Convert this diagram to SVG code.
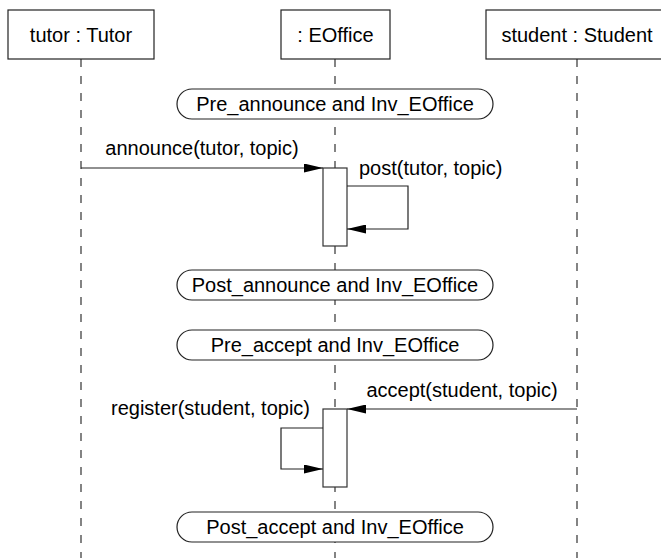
<svg xmlns="http://www.w3.org/2000/svg" width="661" height="558" viewBox="0 0 661 558">
<style>
text{font-family:"Liberation Sans",Arial,sans-serif;font-size:20px;fill:#000}
.box{fill:#fff;stroke:#222;stroke-width:1.2}
.life{stroke:#333;stroke-width:1.2;stroke-dasharray:8 9;fill:none}
.msg{stroke:#222;stroke-width:1.2;fill:none}
.pill{fill:#fff;stroke:#222;stroke-width:1.2}
.act{fill:#fff;stroke:#333;stroke-width:1.2}
</style>
<defs>
<marker id="ah" viewBox="0 0 19 9" refX="19" refY="4.5" markerWidth="19" markerHeight="9" markerUnits="userSpaceOnUse" orient="auto">
<path d="M0,0 L19,4.5 L0,9 Z" fill="#000"/>
</marker>
</defs>
<g id="lifelines">
<line class="life" x1="81" y1="59" x2="81" y2="558"/>
<line class="life" x1="335" y1="59" x2="335" y2="558"/>
<line class="life" x1="577" y1="59" x2="577" y2="558"/>
</g>
<g id="tutor">
<rect class="box" x="8" y="10" width="146" height="49"/>
<text x="81" y="42" text-anchor="middle">tutor : Tutor</text>
</g>
<g id="eoffice">
<rect class="box" x="281" y="10" width="109" height="49"/>
<text x="335.5" y="42" text-anchor="middle">: EOffice</text>
</g>
<g id="student">
<rect class="box" x="486" y="10" width="182" height="49"/>
<text x="577" y="42" text-anchor="middle">student : Student</text>
</g>
<g id="pre_announce">
<rect class="pill" x="177" y="89" width="316" height="30" rx="15" ry="15"/>
<text x="335" y="111" text-anchor="middle">Pre_announce and Inv_EOffice</text>
</g>
<g id="post_announce">
<rect class="pill" x="177" y="270" width="316" height="30" rx="15" ry="15"/>
<text x="335" y="292" text-anchor="middle">Post_announce and Inv_EOffice</text>
</g>
<g id="pre_accept">
<rect class="pill" x="177" y="330" width="316" height="30" rx="15" ry="15"/>
<text x="335" y="352" text-anchor="middle">Pre_accept and Inv_EOffice</text>
</g>
<g id="post_accept">
<rect class="pill" x="177" y="512" width="316" height="30" rx="15" ry="15"/>
<text x="335" y="534" text-anchor="middle">Post_accept and Inv_EOffice</text>
</g>
<g id="activation1">
<rect class="act" x="323" y="168" width="24" height="78"/>
</g>
<g id="activation2">
<rect class="act" x="323" y="409" width="24" height="78"/>
</g>
<g id="connectors">
<line class="msg" x1="81" y1="168" x2="323" y2="168" marker-end="url(#ah)"/>
<text x="202" y="155" text-anchor="middle">announce(tutor, topic)</text>
<polyline class="msg" points="347,186 408,186 408,229 347,229" marker-end="url(#ah)"/>
<text x="359" y="175">post(tutor, topic)</text>
<line class="msg" x1="577" y1="409" x2="347" y2="409" marker-end="url(#ah)"/>
<text x="462" y="397" text-anchor="middle">accept(student, topic)</text>
<polyline class="msg" points="323,428 281,428 281,469 323,469" marker-end="url(#ah)"/>
<text x="310" y="415" text-anchor="end">register(student, topic)</text>
</g>
</svg>
